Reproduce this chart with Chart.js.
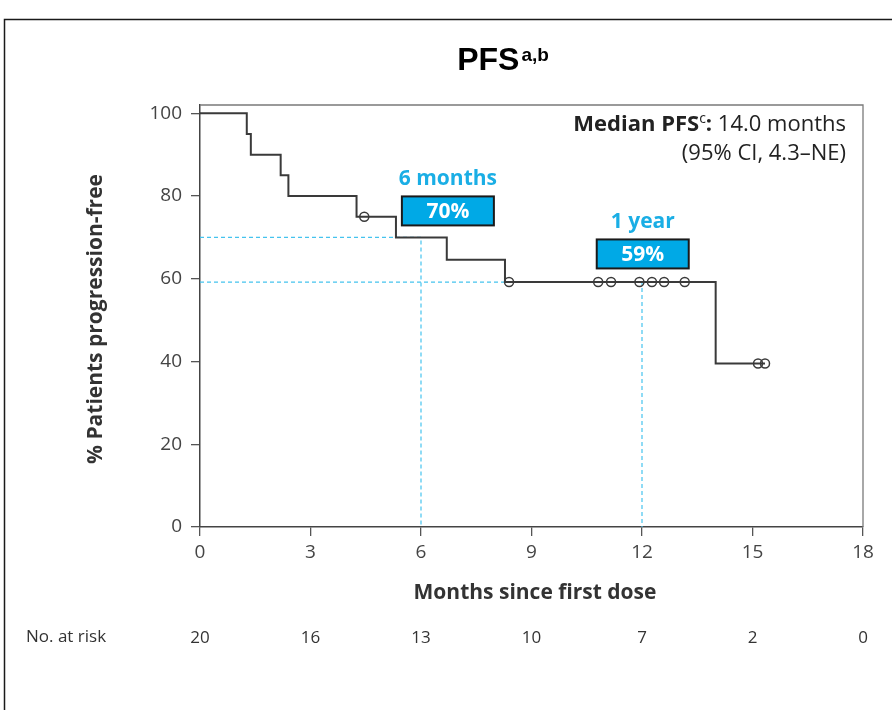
<!DOCTYPE html>
<html>
<head>
<meta charset="utf-8">
<script src="https://cdn.jsdelivr.net/npm/chart.js@4.4.1/dist/chart.umd.min.js"></script>
<style>
  html, body { margin: 0; padding: 0; background: #ffffff; }
  #wrap { width: 892px; height: 710px; position: relative; }
</style>
</head>
<body>
<div id="wrap"><canvas id="c" width="892" height="710"></canvas></div>
<script>
// ---- data ----
const kmTimes     = [0, 1.27, 1.38, 2.19, 2.40, 4.25, 5.32, 6.70, 8.28, 14.0, 15.34];
const kmSurvival  = [100, 95, 90, 85, 80, 75, 70, 64.6, 59.2, 39.5, 39.5];
const censorTimes    = [4.46, 8.39, 10.81, 11.16, 11.93, 12.27, 12.60, 13.16, 15.15, 15.34];
const censorSurvival = [75, 59.2, 59.2, 59.2, 59.2, 59.2, 59.2, 59.2, 39.5, 39.5];
const xTicks = [0, 3, 6, 9, 12, 15, 18];
const yTicks = [0, 20, 40, 60, 80, 100];
const atRisk = [20, 16, 13, 10, 7, 2, 0];
const landmarkMonths = [6, 12];
const landmarkLevels = [70, 59.2];
const landmarkTitles = ['6 months', '1 year'];
const landmarkPercents = ['70%', '59%'];

// ---- build datasets ----
const kmData = kmTimes.map((t, i) => ({ x: t, y: kmSurvival[i] }));
const censorData = censorTimes.map((t, i) => ({ x: t, y: censorSurvival[i] }));
const dashedSets = landmarkMonths.map((m, i) => ({
  data: [{ x: 0, y: landmarkLevels[i] }, { x: m, y: landmarkLevels[i] }, { x: m, y: 0 }],
  showLine: true,
  borderColor: '#45c3ee',
  borderWidth: 1.2,
  borderDash: [4, 3],
  pointRadius: 0,
  order: 3
}));

// annotation placement (data coordinates for anchors)
const annotPos = [
  { cx: 6.73, titleY: 82.6, boxY: 76.4 },
  { cx: 12.02, titleY: 72.2, boxY: 66.0 }
];

const FONT = '"Open Sans", "DejaVu Sans", sans-serif';

const decor = {
  id: 'decor',
  afterDraw(chart) {
    const ctx = chart.ctx;
    const xs = chart.scales.x, ys = chart.scales.y;
    const ca = chart.chartArea;
    ctx.save();

    // outer frame (top + left lines)
    ctx.strokeStyle = '#1a1a1a';
    ctx.lineWidth = 1.5;
    ctx.beginPath();
    ctx.moveTo(892, 19.5); ctx.lineTo(4.5, 19.5); ctx.lineTo(4.5, 710);
    ctx.stroke();

    // plot box top & right
    ctx.strokeStyle = '#7a7a7a';
    ctx.lineWidth = 1.3;
    ctx.beginPath();
    ctx.moveTo(ca.left, ca.top); ctx.lineTo(ca.right, ca.top); ctx.lineTo(ca.right, ca.bottom);
    ctx.stroke();

    // title PFS^a,b
    ctx.fillStyle = '#000';
    ctx.textBaseline = 'alphabetic';
    ctx.textAlign = 'left';
    ctx.font = 'bold 32px "Liberation Sans", Arial, sans-serif';
    const t1 = 'PFS';
    const w1 = ctx.measureText(t1).width;
    ctx.font = 'bold 19px "Liberation Sans", Arial, sans-serif';
    const t2 = 'a,b';
    const w2 = ctx.measureText(t2).width;
    const tx = 503 - (w1 + 2 + w2) / 2;
    ctx.font = 'bold 32px "Liberation Sans", Arial, sans-serif';
    ctx.fillText(t1, tx, 70);
    ctx.font = 'bold 19px "Liberation Sans", Arial, sans-serif';
    ctx.fillText(t2, tx + w1 + 2, 61);

    // y axis title
    ctx.save();
    ctx.translate(102, 319);
    ctx.rotate(-Math.PI / 2);
    ctx.textAlign = 'center';
    ctx.fillStyle = '#333';
    ctx.font = 'bold 21px ' + FONT;
    ctx.fillText('% Patients progression-free', 0, 0);
    ctx.restore();

    // x axis title
    ctx.textAlign = 'center';
    ctx.fillStyle = '#333';
    ctx.font = 'bold 21px ' + FONT;
    ctx.fillText('Months since first dose', 535, 599);

    // median text
    ctx.textAlign = 'left';
    ctx.fillStyle = '#222';
    const parts = [
      { t: 'Median PFS', f: 'bold 22px ' + FONT, dy: 0 },
      { t: 'c', f: '14px ' + FONT, dy: -8 },
      { t: ':', f: 'bold 22px ' + FONT, dy: 0 },
      { t: ' 14.0 months', f: '22px ' + FONT, dy: 0 }
    ];
    let total = 0;
    parts.forEach(p => { ctx.font = p.f; p.w = ctx.measureText(p.t).width; total += p.w; });
    let px = 846 - total;
    parts.forEach(p => { ctx.font = p.f; ctx.fillText(p.t, px, 131 + p.dy); px += p.w; });
    ctx.textAlign = 'right';
    ctx.font = '22px ' + FONT;
    ctx.fillText('(95% CI, 4.3\u2013NE)', 846, 160);

    // landmark annotations
    landmarkMonths.forEach((m, i) => {
      const a = annotPos[i];
      const cx = xs.getPixelForValue(a.cx);
      ctx.textAlign = 'center';
      ctx.fillStyle = '#1aaee5';
      ctx.font = 'bold 21px ' + FONT;
      ctx.fillText(landmarkTitles[i], cx, ys.getPixelForValue(a.titleY));
      const by = ys.getPixelForValue(a.boxY);
      const bw = 92, bh = 29;
      ctx.fillStyle = '#00a9e6';
      ctx.fillRect(cx - bw / 2, by - bh / 2, bw, bh);
      ctx.strokeStyle = '#1a1a1a';
      ctx.lineWidth = 2;
      ctx.strokeRect(cx - bw / 2, by - bh / 2, bw, bh);
      ctx.fillStyle = '#ffffff';
      ctx.font = 'bold 21px ' + FONT;
      ctx.textBaseline = 'middle';
      ctx.fillText(landmarkPercents[i], cx, by + 1);
      ctx.textBaseline = 'alphabetic';
    });

    // number at risk
    ctx.fillStyle = '#333';
    ctx.font = '17px ' + FONT;
    ctx.textBaseline = 'middle';
    ctx.textAlign = 'left';
    ctx.fillText('No. at risk', 26, 637);
    ctx.textAlign = 'center';
    xTicks.forEach((t, i) => {
      ctx.fillText(String(atRisk[i]), xs.getPixelForValue(t), 638);
    });

    ctx.restore();
  }
};

new Chart(document.getElementById('c'), {
  type: 'scatter',
  data: {
    datasets: [
      {
        data: censorData,
        showLine: false,
        pointStyle: 'circle',
        pointRadius: 4.5,
        pointBorderWidth: 1.5,
        pointBorderColor: '#3a3a3a',
        pointBackgroundColor: 'rgba(0,0,0,0)',
        order: 1
      },
      {
        data: kmData,
        showLine: true,
        stepped: 'before',
        borderColor: '#3a3a3a',
        borderWidth: 2,
        pointRadius: 0,
        order: 2
      },
      ...dashedSets
    ]
  },
  options: {
    responsive: false,
    animation: false,
    devicePixelRatio: 1,
    events: [],
    layout: { padding: { left: 0, right: 29, top: 105, bottom: 0 } },
    plugins: { legend: { display: false }, tooltip: { enabled: false }, title: { display: false } },
    scales: {
      x: {
        type: 'linear',
        min: 0, max: 18,
        afterBuildTicks: s => { s.ticks = xTicks.map(v => ({ value: v })); },
        afterFit: s => { s.height = 710 - 527; },
        grid: { display: true, drawOnChartArea: false, drawTicks: true, tickLength: 9, color: '#555', lineWidth: 1.3 },
        border: { display: true, color: '#444', width: 1.5 },
        ticks: { color: '#444', font: { family: FONT, size: 19 }, padding: 5, maxRotation: 0, autoSkip: false }
      },
      y: {
        type: 'linear',
        min: 0, max: 102,
        afterBuildTicks: s => { s.ticks = yTicks.map(v => ({ value: v })); },
        afterFit: s => { s.width = 200; },
        grid: { display: true, drawOnChartArea: false, drawTicks: true, tickLength: 9, color: '#555', lineWidth: 1.3 },
        border: { display: true, color: '#444', width: 1.5 },
        ticks: { color: '#444', font: { family: FONT, size: 19 }, padding: 9, autoSkip: false }
      }
    }
  },
  plugins: [decor]
});
</script>
</body>
</html>
